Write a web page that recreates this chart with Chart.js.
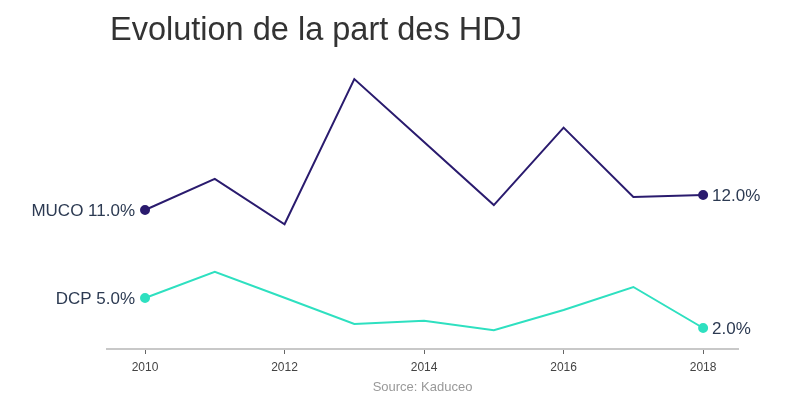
<!DOCTYPE html>
<html>
<head>
<meta charset="utf-8">
<script src="https://cdn.jsdelivr.net/npm/chart.js@4.4.0/dist/chart.umd.min.js"></script>
<style>
  html, body { margin: 0; padding: 0; background: #fff; }
  #wrap { width: 797px; height: 413px; }
</style>
</head>
<body>
<div id="wrap"><canvas id="chart"></canvas></div>
<script>
// ---- data ----
const years = [2010, 2011, 2012, 2013, 2014, 2015, 2016, 2017, 2018];
const mucoValues = [11.0, 13.07, 10.05, 19.73, 15.53, 11.33, 16.49, 11.87, 12.0];
const dcpValues = [5.0, 7.63, 5.03, 2.4, 2.73, 1.77, 3.8, 6.1, 2.0];
const xTickYears = [2010, 2012, 2014, 2016, 2018];
const seriesNames = ["MUCO", "DCP"];
const titleText = "Evolution de la part des HDJ";
const sourceText = "Source: Kaduceo";

const mucoColor = "#2a1b6e";
const dcpColor = "#2ee0c0";
const labelColor = "#2c3a52";
const FONT = "'Liberation Sans', Arial, sans-serif";

function endPoints(ctx) {
    const last = ctx.dataset.data.length - 1;
    return (ctx.dataIndex === 0 || ctx.dataIndex === last) ? 4 : 0;
}

// texte: titre, source, etiquettes de debut / fin de serie
const textPlugin = {
    id: "texts",
    afterDraw(chart) {
        const c = chart.ctx;
        const area = chart.chartArea;
        c.save();

        c.fillStyle = "#333333";
        c.font = "32.5px " + FONT;
        c.textAlign = "left";
        c.textBaseline = "alphabetic";
        c.fillText(titleText, 110, 40);

        c.fillStyle = "#999999";
        c.font = "13px " + FONT;
        c.textAlign = "center";
        c.textBaseline = "middle";
        c.fillText(sourceText, (area.left + area.right) / 2, 387);

        c.font = "17px " + FONT;
        c.fillStyle = labelColor;
        chart.data.datasets.forEach((ds, i) => {
            const meta = chart.getDatasetMeta(i);
            const first = meta.data[0];
            const last = meta.data[meta.data.length - 1];
            const v0 = ds.data[0].y;
            const v1 = ds.data[ds.data.length - 1].y;
            c.textAlign = "right";
            c.fillText(seriesNames[i] + " " + v0.toFixed(1) + "%", first.x - 10, first.y + 1);
            c.textAlign = "left";
            c.fillText(v1.toFixed(1) + "%", last.x + 9, last.y + 1);
        });
        c.restore();
    }
};

const ctx = document.getElementById("chart").getContext("2d");
new Chart(ctx, {
    type: "line",
    data: {
        datasets: [
            {
                label: seriesNames[0],
                data: years.map((y, i) => ({ x: y, y: mucoValues[i] })),
                yAxisID: "yMuco",
                borderColor: mucoColor,
                backgroundColor: mucoColor,
                borderWidth: 2,
                tension: 0,
                pointRadius: endPoints,
                pointHoverRadius: endPoints,
                clip: false
            },
            {
                label: seriesNames[1],
                data: years.map((y, i) => ({ x: y, y: dcpValues[i] })),
                yAxisID: "yDcp",
                borderColor: dcpColor,
                backgroundColor: dcpColor,
                borderWidth: 2,
                tension: 0,
                pointRadius: endPoints,
                pointHoverRadius: endPoints,
                clip: false
            }
        ]
    },
    options: {
        responsive: true,
        maintainAspectRatio: false,
        animation: false,
        layout: { padding: { left: 107, right: 59, top: 75, bottom: 0 } },
        plugins: {
            legend: { display: false },
            title: { display: false },
            tooltip: { enabled: false }
        },
        scales: {
            x: {
                type: "linear",
                min: 2009.455,
                max: 2018.5,
                afterBuildTicks: (scale) => {
                    scale.ticks = xTickYears.map(v => ({ value: v }));
                },
                afterFit: (scale) => { scale.height = 64; },
                border: { display: true, color: "#c8c8c8", width: 2 },
                grid: {
                    display: true,
                    drawOnChartArea: false,
                    drawTicks: true,
                    tickLength: 5,
                    color: "#666666",
                    lineWidth: 1
                },
                ticks: {
                    padding: 6,
                    maxRotation: 0,
                    color: "#444444",
                    font: { family: FONT, size: 12 },
                    callback: (v) => String(v)
                }
            },
            yMuco: { display: false, min: 1.733, max: 20.0 },
            yDcp: { display: false, min: -0.1, max: 27.3 }
        }
    },
    plugins: [textPlugin]
});
</script>
</body>
</html>
